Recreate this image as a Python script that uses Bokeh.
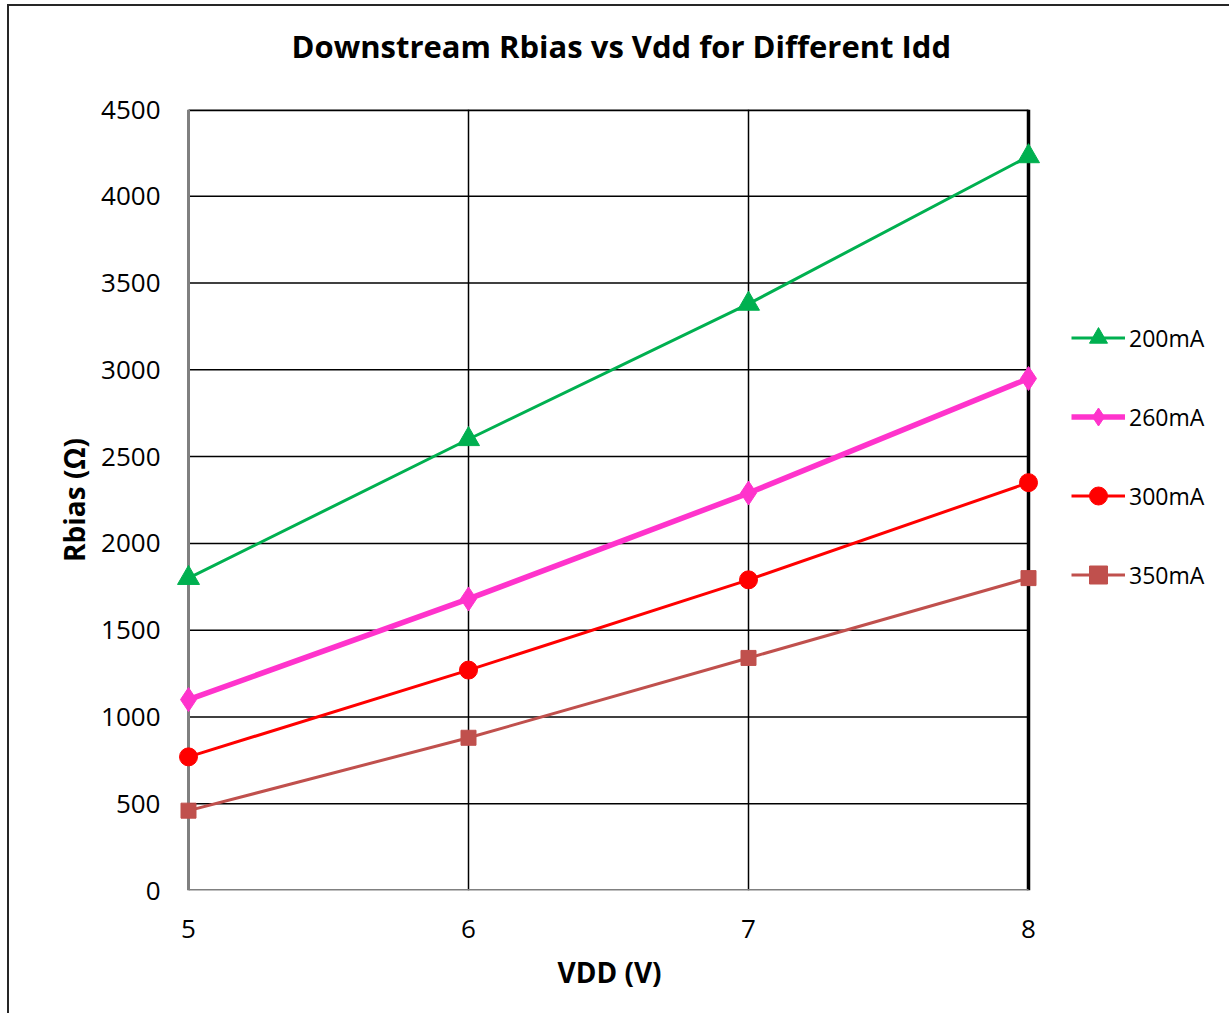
from bokeh.plotting import figure
from bokeh.models import Range1d, FixedTicker, Legend, LegendItem, Title
from bokeh.embed import file_html
from bokeh.resources import INLINE

vdd = [5, 6, 7, 8]
r_200 = [1800, 2600, 3380, 4230]
r_260 = [1100, 1680, 2290, 2950]
r_300 = [770, 1270, 1790, 2350]
r_350 = [460, 880, 1340, 1800]
x_ticks = [5, 6, 7, 8]
y_ticks = [0, 500, 1000, 1500, 2000, 2500, 3000, 3500, 4000, 4500]
series_names = ["200mA", "260mA", "300mA", "350mA"]

FONT = "Open Sans"
x_lo, x_hi = x_ticks[0], x_ticks[-1]
y_lo, y_hi = y_ticks[0], y_ticks[-1]
pad_left = 0.05    # room so end markers are not clipped
x_end = 8.725      # frame continues to the right to hold the legend (white area)

p = figure(width=1222, height=1009, output_backend="svg", toolbar_location=None,
           x_range=Range1d(x_lo - pad_left, x_end), y_range=Range1d(y_lo, y_hi),
           min_border_left=165, min_border_right=0, min_border_top=103, min_border_bottom=125)
p.title = None

# spacer (innermost) then the chart title above it
spacer = Title(text=" ", text_font_size="1px", standoff=38)
main_title = Title(text="Downstream Rbias vs Vdd for Different Idd", text_font=FONT,
                   text_font_size="31px", text_font_style="bold", text_color="black",
                   align="left", vertical_align="top", offset=117, standoff=0)
p.add_layout(spacer, "above")
p.add_layout(main_title, "above")

p.outline_line_color = None
p.background_fill_color = "white"
p.border_fill_color = "white"

for ax in (p.xaxis[0], p.yaxis[0]):
    ax.axis_line_color = None
    ax.major_tick_line_color = None
    ax.minor_tick_line_color = None
    ax.major_label_text_font = FONT
    ax.major_label_text_font_size = "26px"
    ax.major_label_text_color = "black"
    ax.axis_label_text_font = FONT
    ax.axis_label_text_font_style = "bold"
    ax.axis_label_text_color = "black"

p.yaxis.axis_label_text_font_size = "28px"
p.xaxis.ticker = FixedTicker(ticks=x_ticks)
p.yaxis.ticker = FixedTicker(ticks=y_ticks)
p.yaxis.axis_label = "Rbias (Ω)"
p.xaxis.major_label_standoff = 23
p.yaxis.major_label_standoff = 8
p.yaxis.axis_label_standoff = 5

# x-axis title placed under the plotted x extent (not the legend area)
x_title = Title(text="VDD (V)", text_font=FONT, text_font_size="28px", text_font_style="bold",
                text_color="black", align="left", vertical_align="top", offset=383, standoff=24)
p.add_layout(x_title, "below")

# vertical grid inside (6, 7)
p.xgrid.ticker = FixedTicker(ticks=x_ticks[1:-1])
p.xgrid.grid_line_color = "black"
p.xgrid.grid_line_width = 1.5
p.ygrid.visible = False

# horizontal grid lines limited to the data x extent
inner_y = y_ticks[1:-1]
p.segment(x0=[x_lo] * len(inner_y), x1=[x_hi] * len(inner_y), y0=inner_y, y1=inner_y,
          line_color="black", line_width=1.5)
# plot-area border: top and right black, left and bottom gray
p.segment(x0=[x_lo], x1=[x_hi], y0=[y_hi], y1=[y_hi], line_color="black", line_width=3.5)
p.segment(x0=[x_hi], x1=[x_hi], y0=[y_lo], y1=[y_hi], line_color="black", line_width=3.5)
p.segment(x0=[x_lo], x1=[x_lo], y0=[y_lo], y1=[y_hi], line_color="#808080", line_width=3)
p.segment(x0=[x_lo], x1=[x_hi], y0=[y_lo], y1=[y_lo], line_color="#808080", line_width=3)

items = []
l1 = p.line(vdd, r_200, line_color="#00B050", line_width=3)
m1 = p.scatter(vdd, r_200, marker="triangle", size=22, fill_color="#00B050", line_color="#00B050")
items.append(LegendItem(label=series_names[0], renderers=[l1, m1]))

l2 = p.line(vdd, r_260, line_color="#FF33CC", line_width=5.5)
m2 = p.scatter(vdd, r_260, marker="diamond", size=24, fill_color="#FF33CC", line_color="#FF33CC")
items.append(LegendItem(label=series_names[1], renderers=[l2, m2]))

l3 = p.line(vdd, r_300, line_color="#FF0000", line_width=3)
m3 = p.scatter(vdd, r_300, marker="circle", size=18, fill_color="#FF0000", line_color="#FF0000")
items.append(LegendItem(label=series_names[2], renderers=[l3, m3]))

l4 = p.line(vdd, r_350, line_color="#C0504D", line_width=3)
m4 = p.scatter(vdd, r_350, marker="square", size=15, fill_color="#C0504D", line_color="#C0504D")
items.append(LegendItem(label=series_names[3], renderers=[l4, m4]))

legend = Legend(items=items, location=(897, 293), glyph_width=54, glyph_height=45,
                label_height=45, spacing=34, padding=0, margin=0, label_standoff=4,
                label_text_font=FONT, label_text_font_size="23px", label_text_color="black",
                border_line_color=None, background_fill_alpha=0)
p.add_layout(legend, "center")

p.styles = {"margin-left": "7px", "margin-top": "4px",
            "border-left": "2px solid #262626", "border-top": "2px solid #262626"}

open("out.html", "w").write(file_html(p, INLINE))
